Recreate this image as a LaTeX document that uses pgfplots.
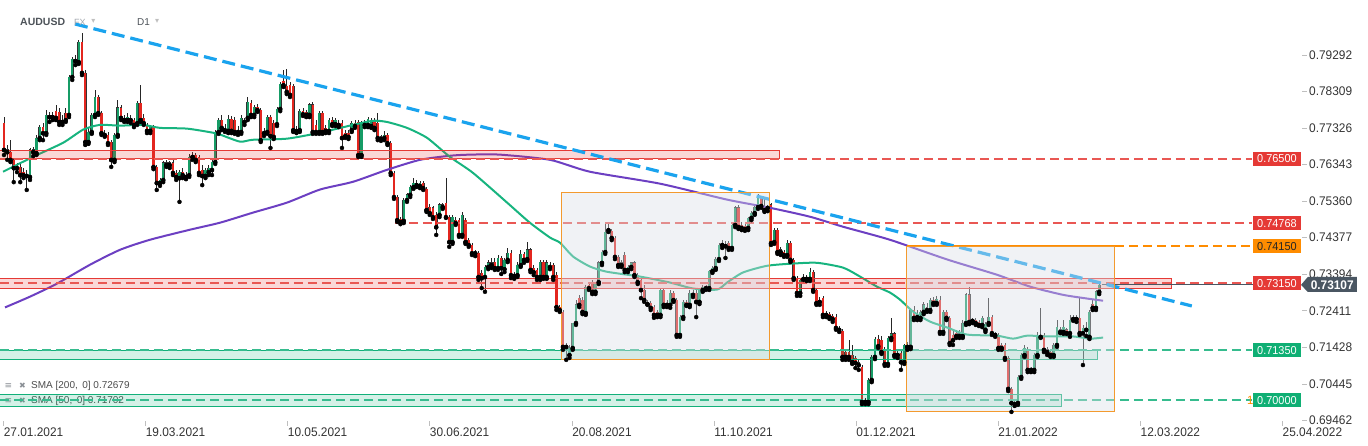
\documentclass[border=0pt]{standalone}
\usepackage{pgfplots}
\pgfplotsset{compat=1.18}
\usepackage{pgfplotstable}
\usepackage{fontspec}
\setmainfont{Liberation Sans}
\newfontfamily\lab[FakeStretch=0.95]{Liberation Sans}
\newfontfamily\symf{DejaVu Sans}

\definecolor{cgreen}{HTML}{169C66}
\definecolor{cred}{HTML}{E3261F}
\definecolor{smag}{HTML}{17B47F}
\definecolor{smap}{HTML}{6C3FC2}
\definecolor{tline}{HTML}{1AA3EE}
\definecolor{zred}{HTML}{E53935}
\definecolor{zgreen}{HTML}{12B07A}
\definecolor{torange}{HTML}{FF8C00}
\definecolor{tgreen}{HTML}{0FAF74}
\definecolor{tdark}{HTML}{4A5662}
\definecolor{boxgray}{HTML}{D9DEE6}
\definecolor{boxline}{HTML}{F39A2E}
\definecolor{labgray}{HTML}{333333}
\definecolor{ttl}{HTML}{4D5359}
\definecolor{ttlight}{HTML}{A0A6AD}
\definecolor{icon}{HTML}{8A8F95}

\pgfplotstableread{
i o h l c
0 0.7746 0.7762 0.7660 0.7674
1 0.7674 0.7687 0.7647 0.7668
2 0.7668 0.7700 0.7641 0.7647
3 0.7647 0.7652 0.7587 0.7625
4 0.7625 0.7639 0.7614 0.7628
5 0.7628 0.7639 0.7587 0.7606
6 0.7614 0.7625 0.7598 0.7606
7 0.7606 0.7620 0.7566 0.7604
8 0.7601 0.7679 0.7593 0.7674
9 0.7674 0.7682 0.7657 0.7668
10 0.7665 0.7714 0.7660 0.7706
11 0.7706 0.7741 0.7700 0.7735
12 0.7735 0.7746 0.7700 0.7719
13 0.7719 0.7781 0.7714 0.7768
14 0.7768 0.7776 0.7749 0.7762
15 0.7762 0.7776 0.7754 0.7768
16 0.7778 0.7795 0.7754 0.7760
17 0.7776 0.7787 0.7741 0.7749
18 0.7754 0.7768 0.7741 0.7749
19 0.7773 0.7787 0.7749 0.7754
20 0.7768 0.7875 0.7762 0.7870
21 0.7870 0.7924 0.7862 0.7918
22 0.7916 0.7929 0.7902 0.7913
23 0.7910 0.7969 0.7905 0.7964
24 0.7964 0.7988 0.7875 0.7881
25 0.7881 0.7889 0.7687 0.7695
26 0.7695 0.7733 0.7690 0.7722
27 0.7722 0.7773 0.7717 0.7768
28 0.7768 0.7835 0.7762 0.7816
29 0.7816 0.7822 0.7768 0.7773
30 0.7773 0.7778 0.7714 0.7719
31 0.7719 0.7727 0.7709 0.7714
32 0.7714 0.7722 0.7687 0.7692
33 0.7695 0.7700 0.7628 0.7647
34 0.7647 0.7719 0.7641 0.7714
35 0.7714 0.7808 0.7709 0.7787
36 0.7787 0.7795 0.7754 0.7760
37 0.7760 0.7768 0.7749 0.7754
38 0.7754 0.7773 0.7749 0.7762
39 0.7760 0.7768 0.7746 0.7754
40 0.7754 0.7760 0.7735 0.7741
41 0.7746 0.7805 0.7741 0.7800
42 0.7800 0.7848 0.7749 0.7754
43 0.7760 0.7770 0.7741 0.7746
44 0.7738 0.7746 0.7719 0.7725
45 0.7725 0.7741 0.7719 0.7735
46 0.7735 0.7741 0.7622 0.7628
47 0.7628 0.7633 0.7566 0.7585
48 0.7585 0.7598 0.7577 0.7593
49 0.7593 0.7644 0.7587 0.7639
50 0.7639 0.7647 0.7628 0.7633
51 0.7633 0.7644 0.7625 0.7639
52 0.7639 0.7647 0.7606 0.7612
53 0.7612 0.7620 0.7593 0.7601
54 0.7598 0.7620 0.7534 0.7614
55 0.7614 0.7625 0.7598 0.7606
56 0.7606 0.7614 0.7595 0.7601
57 0.7606 0.7663 0.7601 0.7655
58 0.7655 0.7668 0.7647 0.7660
59 0.7660 0.7665 0.7641 0.7647
60 0.7655 0.7660 0.7606 0.7612
61 0.7620 0.7633 0.7579 0.7604
62 0.7604 0.7625 0.7598 0.7620
63 0.7614 0.7633 0.7606 0.7625
64 0.7620 0.7647 0.7606 0.7641
65 0.7641 0.7727 0.7636 0.7722
66 0.7722 0.7760 0.7717 0.7754
67 0.7754 0.7768 0.7727 0.7733
68 0.7733 0.7743 0.7722 0.7727
69 0.7725 0.7768 0.7719 0.7757
70 0.7757 0.7765 0.7719 0.7725
71 0.7754 0.7762 0.7717 0.7722
72 0.7727 0.7738 0.7714 0.7722
73 0.7722 0.7768 0.7717 0.7760
74 0.7749 0.7760 0.7741 0.7749
75 0.7760 0.7816 0.7754 0.7803
76 0.7800 0.7808 0.7762 0.7768
77 0.7768 0.7795 0.7762 0.7789
78 0.7789 0.7797 0.7776 0.7781
79 0.7781 0.7787 0.7695 0.7700
80 0.7719 0.7733 0.7711 0.7725
81 0.7722 0.7768 0.7717 0.7762
82 0.7762 0.7768 0.7679 0.7711
83 0.7746 0.7754 0.7703 0.7709
84 0.7743 0.7789 0.7738 0.7784
85 0.7784 0.7856 0.7778 0.7851
86 0.7859 0.7889 0.7843 0.7848
87 0.7846 0.7891 0.7824 0.7830
88 0.7848 0.7856 0.7816 0.7822
89 0.7846 0.7851 0.7722 0.7727
90 0.7730 0.7738 0.7719 0.7725
91 0.7727 0.7784 0.7722 0.7778
92 0.7778 0.7787 0.7765 0.7770
93 0.7776 0.7781 0.7762 0.7768
94 0.7768 0.7800 0.7762 0.7795
95 0.7795 0.7803 0.7717 0.7722
96 0.7741 0.7754 0.7717 0.7722
97 0.7722 0.7778 0.7717 0.7773
98 0.7773 0.7778 0.7717 0.7722
99 0.7733 0.7741 0.7719 0.7725
100 0.7725 0.7760 0.7719 0.7754
101 0.7754 0.7762 0.7738 0.7743
102 0.7743 0.7760 0.7738 0.7754
103 0.7746 0.7754 0.7735 0.7741
104 0.7746 0.7754 0.7679 0.7706
105 0.7719 0.7727 0.7706 0.7711
106 0.7719 0.7727 0.7703 0.7709
107 0.7727 0.7752 0.7722 0.7746
108 0.7746 0.7754 0.7733 0.7738
109 0.7749 0.7754 0.7655 0.7660
110 0.7660 0.7752 0.7655 0.7746
111 0.7746 0.7754 0.7735 0.7741
112 0.7741 0.7762 0.7735 0.7757
113 0.7738 0.7760 0.7733 0.7754
114 0.7754 0.7760 0.7727 0.7733
115 0.7746 0.7773 0.7700 0.7706
116 0.7709 0.7714 0.7698 0.7703
117 0.7706 0.7725 0.7700 0.7714
118 0.7714 0.7719 0.7687 0.7692
119 0.7692 0.7698 0.7606 0.7612
120 0.7612 0.7617 0.7542 0.7547
121 0.7547 0.7553 0.7480 0.7485
122 0.7488 0.7493 0.7474 0.7480
123 0.7483 0.7544 0.7477 0.7539
124 0.7539 0.7558 0.7534 0.7553
125 0.7553 0.7579 0.7547 0.7574
126 0.7574 0.7598 0.7569 0.7585
127 0.7585 0.7593 0.7574 0.7579
128 0.7577 0.7590 0.7571 0.7585
129 0.7585 0.7590 0.7566 0.7571
130 0.7569 0.7574 0.7507 0.7512
131 0.7520 0.7528 0.7499 0.7504
132 0.7518 0.7523 0.7488 0.7493
133 0.7499 0.7507 0.7445 0.7466
134 0.7499 0.7531 0.7493 0.7526
135 0.7526 0.7531 0.7515 0.7520
136 0.7531 0.7598 0.7491 0.7493
137 0.7493 0.7499 0.7413 0.7426
138 0.7426 0.7499 0.7421 0.7493
139 0.7485 0.7493 0.7472 0.7477
140 0.7485 0.7491 0.7440 0.7445
141 0.7445 0.7507 0.7440 0.7499
142 0.7485 0.7491 0.7421 0.7426
143 0.7431 0.7437 0.7413 0.7418
144 0.7418 0.7423 0.7391 0.7396
145 0.7399 0.7405 0.7388 0.7396
146 0.7396 0.7402 0.7324 0.7332
147 0.7343 0.7351 0.7302 0.7329
148 0.7332 0.7364 0.7292 0.7359
149 0.7359 0.7378 0.7353 0.7370
150 0.7370 0.7383 0.7356 0.7364
151 0.7372 0.7383 0.7351 0.7356
152 0.7356 0.7391 0.7351 0.7383
153 0.7383 0.7388 0.7340 0.7356
154 0.7353 0.7383 0.7345 0.7378
155 0.7378 0.7410 0.7372 0.7396
156 0.7396 0.7405 0.7329 0.7337
157 0.7337 0.7345 0.7327 0.7335
158 0.7337 0.7372 0.7332 0.7364
159 0.7364 0.7405 0.7359 0.7394
160 0.7394 0.7399 0.7370 0.7378
161 0.7380 0.7426 0.7375 0.7405
162 0.7405 0.7410 0.7345 0.7351
163 0.7356 0.7364 0.7337 0.7345
164 0.7351 0.7356 0.7324 0.7332
165 0.7332 0.7378 0.7324 0.7372
166 0.7372 0.7378 0.7327 0.7332
167 0.7332 0.7378 0.7327 0.7370
168 0.7364 0.7372 0.7353 0.7359
169 0.7364 0.7370 0.7324 0.7332
170 0.7337 0.7345 0.7243 0.7251
171 0.7251 0.7257 0.7238 0.7243
172 0.7238 0.7243 0.7136 0.7144
173 0.7149 0.7154 0.7109 0.7144
174 0.7122 0.7149 0.7114 0.7141
175 0.7141 0.7208 0.7136 0.7208
176 0.7208 0.7270 0.7203 0.7257
177 0.7275 0.7284 0.7251 0.7257
178 0.7270 0.7278 0.7232 0.7238
179 0.7235 0.7310 0.7230 0.7305
180 0.7310 0.7318 0.7297 0.7302
181 0.7316 0.7324 0.7286 0.7292
182 0.7292 0.7318 0.7286 0.7313
183 0.7318 0.7375 0.7313 0.7370
184 0.7370 0.7405 0.7364 0.7399
185 0.7399 0.7477 0.7394 0.7453
186 0.7458 0.7474 0.7453 0.7458
187 0.7456 0.7461 0.7431 0.7437
188 0.7437 0.7442 0.7380 0.7386
189 0.7386 0.7391 0.7359 0.7364
190 0.7370 0.7378 0.7359 0.7364
191 0.7391 0.7399 0.7345 0.7351
192 0.7351 0.7364 0.7345 0.7359
193 0.7359 0.7372 0.7353 0.7370
194 0.7370 0.7375 0.7332 0.7337
195 0.7337 0.7343 0.7313 0.7318
196 0.7324 0.7329 0.7275 0.7297
197 0.7297 0.7310 0.7265 0.7270
198 0.7265 0.7270 0.7257 0.7259
199 0.7262 0.7267 0.7243 0.7249
200 0.7251 0.7257 0.7222 0.7230
201 0.7238 0.7243 0.7224 0.7230
202 0.7230 0.7302 0.7224 0.7297
203 0.7297 0.7302 0.7251 0.7257
204 0.7262 0.7270 0.7251 0.7257
205 0.7257 0.7297 0.7249 0.7289
206 0.7289 0.7294 0.7265 0.7270
207 0.7270 0.7275 0.7171 0.7176
208 0.7176 0.7230 0.7171 0.7224
209 0.7224 0.7270 0.7219 0.7265
210 0.7265 0.7270 0.7254 0.7257
211 0.7257 0.7297 0.7251 0.7289
212 0.7289 0.7297 0.7278 0.7284
213 0.7289 0.7297 0.7224 0.7265
214 0.7265 0.7300 0.7259 0.7297
215 0.7297 0.7310 0.7292 0.7305
216 0.7305 0.7310 0.7297 0.7302
217 0.7302 0.7351 0.7297 0.7348
218 0.7348 0.7362 0.7343 0.7356
219 0.7356 0.7386 0.7351 0.7380
220 0.7380 0.7423 0.7375 0.7418
221 0.7418 0.7431 0.7410 0.7421
222 0.7421 0.7429 0.7383 0.7415
223 0.7423 0.7429 0.7405 0.7410
224 0.7410 0.7474 0.7405 0.7472
225 0.7472 0.7523 0.7466 0.7518
226 0.7518 0.7526 0.7461 0.7466
227 0.7472 0.7480 0.7458 0.7464
228 0.7469 0.7474 0.7456 0.7461
229 0.7464 0.7493 0.7458 0.7491
230 0.7491 0.7509 0.7485 0.7504
231 0.7504 0.7526 0.7499 0.7520
232 0.7520 0.7555 0.7515 0.7544
233 0.7544 0.7550 0.7518 0.7523
234 0.7520 0.7547 0.7507 0.7512
235 0.7518 0.7526 0.7509 0.7520
236 0.7526 0.7531 0.7418 0.7423
237 0.7426 0.7464 0.7421 0.7458
238 0.7458 0.7464 0.7394 0.7399
239 0.7405 0.7413 0.7391 0.7399
240 0.7399 0.7405 0.7386 0.7391
241 0.7391 0.7431 0.7386 0.7423
242 0.7423 0.7429 0.7372 0.7378
243 0.7378 0.7383 0.7324 0.7329
244 0.7329 0.7335 0.7281 0.7289
245 0.7289 0.7329 0.7281 0.7324
246 0.7332 0.7340 0.7324 0.7327
247 0.7327 0.7337 0.7321 0.7332
248 0.7327 0.7356 0.7321 0.7345
249 0.7345 0.7351 0.7292 0.7297
250 0.7297 0.7302 0.7257 0.7262
251 0.7270 0.7278 0.7257 0.7265
252 0.7275 0.7281 0.7224 0.7230
253 0.7235 0.7240 0.7224 0.7230
254 0.7232 0.7238 0.7219 0.7224
255 0.7227 0.7232 0.7211 0.7219
256 0.7224 0.7232 0.7190 0.7195
257 0.7195 0.7200 0.7184 0.7190
258 0.7187 0.7192 0.7109 0.7117
259 0.7130 0.7136 0.7109 0.7117
260 0.7130 0.7162 0.7109 0.7117
261 0.7122 0.7149 0.7098 0.7103
262 0.7114 0.7119 0.7087 0.7101
263 0.7101 0.7109 0.7082 0.7095
264 0.7090 0.7095 0.6990 0.6996
265 0.7001 0.7006 0.6990 0.6996
266 0.6996 0.7060 0.6990 0.7055
267 0.7055 0.7122 0.7049 0.7117
268 0.7117 0.7171 0.7111 0.7165
269 0.7165 0.7176 0.7141 0.7146
270 0.7162 0.7173 0.7125 0.7130
271 0.7136 0.7144 0.7093 0.7098
272 0.7098 0.7173 0.7093 0.7168
273 0.7168 0.7222 0.7162 0.7179
274 0.7179 0.7184 0.7117 0.7122
275 0.7127 0.7133 0.7114 0.7122
276 0.7127 0.7133 0.7082 0.7103
277 0.7103 0.7152 0.7098 0.7149
278 0.7149 0.7157 0.7136 0.7144
279 0.7144 0.7249 0.7138 0.7243
280 0.7243 0.7254 0.7216 0.7222
281 0.7230 0.7243 0.7216 0.7224
282 0.7222 0.7243 0.7216 0.7238
283 0.7238 0.7265 0.7232 0.7257
284 0.7249 0.7262 0.7238 0.7243
285 0.7243 0.7275 0.7238 0.7270
286 0.7270 0.7278 0.7257 0.7262
287 0.7262 0.7281 0.7257 0.7273
288 0.7270 0.7281 0.7179 0.7184
289 0.7184 0.7243 0.7179 0.7238
290 0.7238 0.7243 0.7216 0.7222
291 0.7222 0.7227 0.7149 0.7154
292 0.7176 0.7190 0.7149 0.7162
293 0.7181 0.7190 0.7168 0.7173
294 0.7179 0.7190 0.7168 0.7173
295 0.7173 0.7216 0.7168 0.7208
296 0.7208 0.7289 0.7203 0.7284
297 0.7284 0.7305 0.7205 0.7211
298 0.7216 0.7222 0.7208 0.7214
299 0.7216 0.7222 0.7203 0.7208
300 0.7211 0.7216 0.7200 0.7203
301 0.7203 0.7227 0.7197 0.7222
302 0.7190 0.7211 0.7184 0.7205
303 0.7208 0.7275 0.7203 0.7224
304 0.7224 0.7230 0.7176 0.7181
305 0.7179 0.7184 0.7171 0.7176
306 0.7176 0.7181 0.7136 0.7141
307 0.7149 0.7154 0.7136 0.7141
308 0.7149 0.7154 0.7109 0.7114
309 0.7114 0.7119 0.7025 0.7031
310 0.7031 0.7036 0.6969 0.6993
311 0.6993 0.7001 0.6985 0.6990
312 0.6993 0.7068 0.6988 0.7063
313 0.7063 0.7127 0.7058 0.7122
314 0.7122 0.7149 0.7117 0.7141
315 0.7136 0.7144 0.7076 0.7082
316 0.7084 0.7090 0.7076 0.7082
317 0.7082 0.7127 0.7076 0.7122
318 0.7122 0.7184 0.7117 0.7176
319 0.7176 0.7249 0.7168 0.7171
320 0.7176 0.7181 0.7130 0.7136
321 0.7136 0.7144 0.7122 0.7130
322 0.7130 0.7138 0.7117 0.7122
323 0.7122 0.7154 0.7117 0.7149
324 0.7149 0.7216 0.7144 0.7197
325 0.7190 0.7197 0.7181 0.7184
326 0.7184 0.7216 0.7179 0.7197
327 0.7190 0.7195 0.7179 0.7181
328 0.7181 0.7230 0.7171 0.7216
329 0.7222 0.7230 0.7214 0.7219
330 0.7219 0.7230 0.7211 0.7224
331 0.7222 0.7278 0.7176 0.7181
332 0.7181 0.7203 0.7095 0.7195
333 0.7195 0.7211 0.7173 0.7190
334 0.7171 0.7243 0.7165 0.7238
335 0.7259 0.7270 0.7243 0.7249
336 0.7249 0.7297 0.7243 0.7292
337 0.7292 0.7318 0.7286 0.73107
}\candles

\pgfplotstableread{
x y
0.3 0.7250
8 0.7279
16.3 0.7314
26.5 0.7365
35.7 0.7405
44.9 0.7432
57.2 0.7459
66.5 0.7478
76.6 0.7505
87.1 0.7532
97.2 0.7567
107.4 0.7588
117.8 0.7620
128 0.7647
137.2 0.7658
143.4 0.7661
152.6 0.7661
168 0.7647
180.3 0.7615
201.8 0.7583
222.5 0.7540
235.7 0.7518
248 0.7494
258.2 0.7467
272.6 0.7432
290.2 0.7379
305.5 0.7338
315.7 0.7306
325.8 0.7284
333.2 0.7274
338.2 0.7268
}\smatwo

\pgfplotstableread{
x y
-0.3 0.7615
8.9 0.7655
18.2 0.7693
24.3 0.7728
29.5 0.7741
35.7 0.7739
42.8 0.7741
48 0.7733
56.3 0.7731
64.3 0.7720
66.5 0.7715
72.6 0.7696
76.6 0.7701
87.1 0.7704
97.2 0.7720
107.4 0.7741
113.5 0.7752
117.8 0.7749
124 0.7733
130.2 0.7706
137.2 0.7655
144.3 0.7612
154.8 0.7532
161.8 0.7478
168 0.7438
171.1 0.7424
175.1 0.7387
180.3 0.7360
185.5 0.7346
195.7 0.7333
204.9 0.7317
212 0.7301
219.4 0.7298
222.5 0.7317
227.4 0.7344
234.8 0.7362
242.8 0.7368
250.2 0.7370
258.2 0.7357
263.4 0.7333
268.6 0.7306
272.6 0.7290
275.7 0.7271
279.7 0.7239
284.9 0.7212
290.2 0.7196
296.3 0.7177
305.5 0.7174
310.5 0.7166
314.8 0.7174
320.9 0.7172
328.9 0.7172
334.2 0.7166
338.2 0.7169
}\smafifty

\begin{document}
\begin{tikzpicture}
\path[use as bounding box] (0,0) rectangle (1368pt,446pt);
\begin{axis}[
  at={(0pt,25pt)}, anchor=south west,
  scale only axis, width=1302pt, height=421pt,
  xmin=-1.23, xmax=399.4, ymin=0.69445, ymax=0.8077,
  axis line style={draw=none},
  clip=false,
  ytick={0.69462,0.70445,0.71428,0.72411,0.73394,0.74377,0.75360,0.76343,0.77326,0.78309,0.79292},
  yticklabels={0.69462,0.70445,0.71428,0.72411,0.73394,0.74377,0.75360,0.76343,0.77326,0.78309,0.79292},
  xtick={-0.12,43.6,87.3,131.0,174.8,218.5,262.2,305.9,349.7,393.4},
  xticklabels={27.01.2021,19.03.2021,10.05.2021,30.06.2021,20.08.2021,11.10.2021,01.12.2021,21.01.2022,12.03.2022,25.04.2022},
  xtick pos=bottom, ytick pos=right,
  yticklabel pos=right,
  tick align=outside,
  major tick length=5pt,
  tick style={draw=black!25, line width=0.6pt},
  xticklabel style={font=\lab\fontsize{12.5}{14}\selectfont, text=labgray, anchor=north west, inner sep=0pt, yshift=-2pt},
  yticklabel style={font=\lab\fontsize{12.5}{14}\selectfont, text=labgray, anchor=west, inner sep=0pt, xshift=2pt},
]
% wicks
\addplot[only marks, mark=none, forget plot,
  error bars/.cd, y dir=plus, y explicit, error mark=none,
  error bar style={draw=black!85, line width=0.7pt}]
  table[x=i, y=l, y error plus expr={\thisrow{h}-\thisrow{l}}] {\candles};
% body outline
\addplot[only marks, mark=none, forget plot,
  error bars/.cd, y dir=plus, y explicit, error mark=none,
  error bar style={draw=black!80, line width=2.8pt}]
  table[x=i, y expr={min(\thisrow{o},\thisrow{c})-0.00009}, y error plus expr={abs(\thisrow{c}-\thisrow{o})+0.00018}] {\candles};
% green bodies
\addplot[only marks, mark=none, forget plot,
  restrict expr to domain={\thisrow{c}-\thisrow{o}}{0:1},
  error bars/.cd, y dir=plus, y explicit, error mark=none,
  error bar style={draw=cgreen, line width=2.1pt}]
  table[x=i, y=o, y error plus expr={\thisrow{c}-\thisrow{o}}] {\candles};
% red bodies
\addplot[only marks, mark=none, forget plot,
  restrict expr to domain={\thisrow{o}-\thisrow{c}}{0.00001:1},
  error bars/.cd, y dir=plus, y explicit, error mark=none,
  error bar style={draw=cred, line width=2.1pt}]
  table[x=i, y=c, y error plus expr={\thisrow{o}-\thisrow{c}}] {\candles};

% moving averages
\addplot[smap, line width=2pt, smooth, tension=0.4, mark=none] table {\smatwo};
\addplot[smag, line width=2pt, smooth, tension=0.4, mark=none] table {\smafifty};

% legend text
\node[anchor=west, inner sep=0pt, font=\symf\fontsize{9}{10}\selectfont, text=icon] at (axis description cs:0.0035,0.0831) {≡};
\node[anchor=west, inner sep=0pt, font=\symf\fontsize{8}{10}\selectfont, text=icon] at (axis description cs:0.0145,0.0831) {✖};
\node[anchor=west, inner sep=0pt, font=\fontsize{10}{12}\selectfont, text=black!70] at (axis description cs:0.0238,0.0831) {SMA [200,\, 0] 0.72679};
\node[anchor=west, inner sep=0pt, font=\symf\fontsize{9}{10}\selectfont, text=icon] at (axis description cs:0.0035,0.0475) {≡};
\node[anchor=west, inner sep=0pt, font=\symf\fontsize{8}{10}\selectfont, text=icon] at (axis description cs:0.0145,0.0475) {✖};
\node[anchor=west, inner sep=0pt, font=\fontsize{10}{12}\selectfont, text=black!70] at (axis description cs:0.0238,0.0475) {SMA [50,\, 0] 0.71702};

% zones
\fill[zred, opacity=0.2] (axis cs:-1.3,0.7650) rectangle (axis cs:238.5,0.7672);
\draw[zred, line width=0.8pt] (axis cs:-1.3,0.7650) rectangle (axis cs:238.5,0.7672);
\fill[zred, opacity=0.2] (axis cs:-1.3,0.7302) rectangle (axis cs:359.1,0.7327);
\draw[zred, line width=0.8pt] (axis cs:-1.3,0.7302) rectangle (axis cs:359.1,0.7327);
\fill[zgreen, opacity=0.18] (axis cs:-1.3,0.7109) rectangle (axis cs:336.3,0.7135);
\draw[zgreen, line width=0.8pt] (axis cs:-1.3,0.7109) rectangle (axis cs:336.3,0.7135);
\fill[zgreen, opacity=0.18] (axis cs:-1.3,0.6985) rectangle (axis cs:325.5,0.7017);
\draw[zgreen, line width=0.8pt] (axis cs:-1.3,0.6985) rectangle (axis cs:325.5,0.7017);

% horizontal levels
\draw[zred!85, line width=1.8pt, dash pattern=on 9pt off 5pt] (axis cs:-1.3,0.7650) -- (axis cs:384,0.7650);
\draw[zred!85, line width=1.8pt, dash pattern=on 9pt off 5pt] (axis cs:120.3,0.74768) -- (axis cs:384,0.74768);
\draw[torange, line width=1.8pt, dash pattern=on 9pt off 5pt] (axis cs:341.8,0.7415) -- (axis cs:384,0.7415);
\draw[torange, line width=1.2pt] (axis cs:277.8,0.7415) -- (axis cs:341.8,0.7415);
\draw[zred!85, line width=1.8pt, dash pattern=on 9pt off 5pt] (axis cs:-1.3,0.7315) -- (axis cs:384,0.7315);
\draw[zgreen!85, line width=1.8pt, dash pattern=on 9pt off 5pt] (axis cs:-1.3,0.7135) -- (axis cs:384,0.7135);
\draw[zgreen!85, line width=1.8pt, dash pattern=on 9pt off 5pt] (axis cs:-1.3,0.7000) -- (axis cs:384,0.7000);
\draw[tdark, line width=0.8pt] (axis cs:338,0.73107) -- (axis cs:399.1,0.73107);

% trend line
\draw[tline, line width=3.2pt, dash pattern=on 13pt off 6pt] (axis cs:21.85,0.80124) -- (axis cs:365.5,0.72539);

% boxes
\fill[boxgray, opacity=0.4] (axis cs:171.4,0.7109) rectangle (axis cs:235.4,0.7558);
\draw[boxline, line width=1pt] (axis cs:171.4,0.7109) rectangle (axis cs:235.4,0.7558);
\fill[boxgray, opacity=0.4] (axis cs:277.8,0.6971) rectangle (axis cs:341.8,0.7415);
\draw[boxline, line width=1pt] (axis cs:277.8,0.6971) rectangle (axis cs:341.8,0.7415);

% small orange text behind tag
\node[anchor=east, inner sep=0pt, text=torange, font=\lab\fontsize{12}{14}\selectfont] at (axis cs:386.5,0.7000) {13};

% tags
\tikzset{tag/.style={minimum width=48pt, minimum height=14pt, inner sep=0pt, text=white, font=\lab\fontsize{11.5}{13}\selectfont}}
\node[tag, fill=zred] at (axis cs:391.7,0.7650) {0.76500};
\node[tag, fill=zred] at (axis cs:391.7,0.74768) {0.74768};
\node[tag, fill=torange, text=black!85] at (axis cs:391.7,0.7415) {0.74150};
\node[tag, fill=zred] at (axis cs:391.7,0.7315) {0.73150};
\node[tag, fill=tgreen] at (axis cs:391.7,0.7135) {0.71350};
\node[tag, fill=tgreen] at (axis cs:391.7,0.7000) {0.70000};

% title
\node[anchor=west, inner sep=0pt, font=\bfseries\fontsize{10.5}{12}\selectfont, text=ttl] at (axis description cs:0.0154,0.9477) {AUDUSD};
\node[anchor=west, inner sep=0pt, font=\fontsize{9}{10}\selectfont, text=ttlight] at (axis description cs:0.0568,0.9477) {FX};
\node[anchor=west, inner sep=0pt, font=\symf\fontsize{8}{10}\selectfont, text=black!25] at (axis description cs:0.0700,0.9500) {▾};
\node[anchor=west, inner sep=0pt, font=\fontsize{10}{12}\selectfont, text=ttl] at (axis description cs:0.1052,0.9477) {D1};
\node[anchor=west, inner sep=0pt, font=\symf\fontsize{8}{10}\selectfont, text=black!25] at (axis description cs:0.1190,0.9500) {▾};

% anchor coordinates for the price tag
\coordinate (tA) at (axis cs:399.1,0.73107);
\coordinate (tB) at (axis cs:401.2,0.73320);
\coordinate (tC) at (axis cs:416.3,0.73320);
\coordinate (tD) at (axis cs:416.3,0.72915);
\coordinate (tE) at (axis cs:401.2,0.72915);
\coordinate (tM) at (axis cs:408.7,0.73107);
\end{axis}
\fill[tdark] (tA) -- (tB) -- (tC) -- (tD) -- (tE) -- cycle;
\node[inner sep=0pt, text=white, font=\lab\bfseries\fontsize{12.5}{14}\selectfont] at (tM) {0.73107};
\end{tikzpicture}
\end{document}
